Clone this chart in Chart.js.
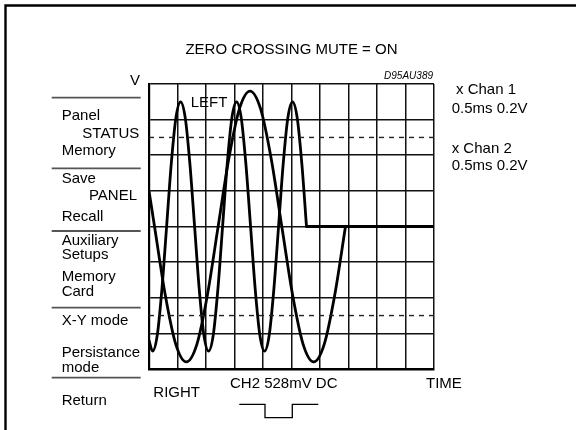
<!DOCTYPE html>
<html>
<head>
<meta charset="utf-8">
<style>
  html, body { margin: 0; padding: 0; background: #ffffff; }
  canvas { display: block; }
</style>
<script src="https://cdn.jsdelivr.net/npm/chart.js@4.4.0/dist/chart.umd.min.js"></script>
</head>
<body>
<canvas id="scope" width="576" height="430"></canvas>
<script>
// ---- Data (time in ms, level in V) ----
const timeRange = [0, 5];          // 10 div x 0.5 ms
const voltRange = [-0.8, 0.8];     // 8 div x 0.2 V
const timeStep = 0.5;
const voltStep = 0.2;

// Channel 1 (fast tone) until its zero-crossing mute point
const chan1Time  = [0, 0.063, 0.145, 0.227, 0.309, 0.390, 0.472, 0.554, 0.636, 0.718, 0.800, 0.881, 0.963,
                    1.045, 1.127, 1.209, 1.291, 1.372, 1.454, 1.536, 1.618, 1.700, 1.782, 1.863, 1.945,
                    2.027, 2.109, 2.191, 2.273, 2.354, 2.436, 2.518, 2.600, 2.682, 2.763];
const chan1Volts = [-0.64, -0.70, -0.61, -0.35, 0, 0.35, 0.61, 0.70, 0.61, 0.35, 0, -0.35, -0.61,
                    -0.70, -0.61, -0.35, 0, 0.35, 0.61, 0.70, 0.61, 0.35, 0, -0.35, -0.61,
                    -0.70, -0.61, -0.35, 0, 0.35, 0.61, 0.70, 0.61, 0.35, 0];

// Channel 2 (slow tone) until its zero-crossing mute point
const chan2Time  = [0, 0.097, 0.283, 0.469, 0.655, 0.841, 1.027, 1.213, 1.400, 1.586, 1.772, 1.958,
                    2.144, 2.330, 2.517, 2.703, 2.889, 3.075, 3.261, 3.447];
const chan2Volts = [0.20, 0, -0.38, -0.66, -0.76, -0.66, -0.38, 0, 0.38, 0.66, 0.76, 0.66,
                    0.38, 0, -0.38, -0.66, -0.76, -0.66, -0.38, 0];

// Muted (flat) level after the zero crossing
const muteLevel = 0;
// Dashed reference levels
const dashLevels = [0.5, -0.5];

// Texts
const titleText = 'ZERO CROSSING MUTE = ON';
const figureId = 'D95AU389';
const chanLabels = ['x Chan 1', '0.5ms 0.2V', 'x Chan 2', '0.5ms 0.2V'];
const menuLabels = ['V', 'Panel', 'STATUS', 'Memory', 'Save', 'PANEL', 'Recall', 'Auxiliary', 'Setups',
                    'Memory', 'Card', 'X-Y mode', 'Persistance', 'mode', 'Return'];
const traceLabels = ['LEFT', 'RIGHT', 'CH2 528mV DC', 'TIME'];

// ---- Build datasets ----
const toPts = (xs, ys) => xs.map((x, i) => ({ x: x, y: ys[i] }));
const last = a => a[a.length - 1];

const traceStyle = {
  borderColor: '#000', borderWidth: 2.8, pointRadius: 0, fill: false,
  cubicInterpolationMode: 'monotone', borderCapStyle: 'round', borderJoinStyle: 'round'
};

const datasets = [
  ...dashLevels.map(v => ({
    label: 'ref ' + v, data: [{ x: timeRange[0], y: v }, { x: timeRange[1], y: v }],
    borderColor: '#222', borderWidth: 1.4, borderDash: [5, 5], pointRadius: 0, fill: false
  })),
  Object.assign({ label: 'Chan 1', data: toPts(chan1Time, chan1Volts) }, traceStyle),
  Object.assign({ label: 'Chan 1 muted', data: [{ x: last(chan1Time), y: muteLevel }, { x: timeRange[1], y: muteLevel }] }, traceStyle),
  Object.assign({ label: 'Chan 2', data: toPts(chan2Time, chan2Volts) }, traceStyle),
  Object.assign({ label: 'Chan 2 muted', data: [{ x: last(chan2Time), y: muteLevel }, { x: timeRange[1], y: muteLevel }] }, traceStyle)
];

const FONT = '"Liberation Sans", Arial, Helvetica, sans-serif';

const decor = {
  id: 'decor',
  beforeDraw(chart) {
    const ctx = chart.ctx;
    ctx.save();
    // outer frame (top and left edges visible)
    ctx.strokeStyle = '#000';
    ctx.lineWidth = 2.4;
    ctx.beginPath();
    ctx.moveTo(5.5, 432);
    ctx.lineTo(5.5, 5.5);
    ctx.lineTo(580, 5.5);
    ctx.stroke();
    // menu separators
    ctx.strokeStyle = '#555';
    ctx.lineWidth = 1.8;
    [97.7, 168.3, 231, 307.7, 377.7].forEach(y => {
      ctx.beginPath();
      ctx.moveTo(51.7, y);
      ctx.lineTo(140.7, y);
      ctx.stroke();
    });
    ctx.restore();
  },
  afterDraw(chart) {
    const ctx = chart.ctx;
    const area = chart.chartArea;
    ctx.save();
    ctx.fillStyle = '#000';
    ctx.textBaseline = 'alphabetic';
    const put = (t, x, y, align, font) => {
      ctx.font = font || ('15px ' + FONT);
      ctx.textAlign = align || 'left';
      ctx.fillText(t, x, y);
    };
    // title
    put(titleText, (area.left + area.right) / 2, 53.5, 'center');
    // figure id
    put(figureId, area.right - 1, 79, 'right', 'italic 10px ' + FONT);
    // channel info
    put(chanLabels[0], 456, 94);
    put(chanLabels[1], 451.7, 112.7);
    put(chanLabels[2], 451.7, 152.7);
    put(chanLabels[3], 451.7, 170);
    // menu
    const menuPos = [
      [140, 85, 'right'], [61.7, 120], [139.3, 137.7, 'right'], [61.7, 155], [61.7, 182.5],
      [137, 200, 'right'], [61.7, 220.7], [61.7, 245], [61.7, 259.3], [61.7, 281], [61.7, 296],
      [61.7, 325], [61.7, 356.7], [61.7, 371.7], [61.7, 405]
    ];
    menuLabels.forEach((t, i) => put(t, menuPos[i][0], menuPos[i][1], menuPos[i][2]));
    // trace labels
    put(traceLabels[0], 190.7, 106.7);
    put(traceLabels[1], 153.3, 396.7);
    put(traceLabels[2], 230, 388.3);
    put(traceLabels[3], 426, 388.3);
    // pulse symbol
    ctx.strokeStyle = '#000';
    ctx.lineWidth = 1.3;
    ctx.beginPath();
    ctx.moveTo(239.3, 404.3);
    ctx.lineTo(265, 404.3);
    ctx.lineTo(265, 417.7);
    ctx.lineTo(292.3, 417.7);
    ctx.lineTo(292.3, 404.3);
    ctx.lineTo(318.3, 404.3);
    ctx.stroke();
    ctx.restore();
  }
};

new Chart(document.getElementById('scope'), {
  type: 'line',
  data: { datasets: datasets },
  plugins: [decor],
  options: {
    responsive: false,
    animation: false,
    devicePixelRatio: 1,
    layout: { padding: { left: 149, top: 84, right: 142, bottom: 61 } },
    plugins: { legend: { display: false }, tooltip: { enabled: false }, title: { display: false } },
    elements: { line: { tension: 0 } },
    scales: {
      x: {
        type: 'linear', min: timeRange[0], max: timeRange[1],
        ticks: { display: false, stepSize: timeStep },
        grid: { color: '#111', lineWidth: 1.5, drawTicks: false },
        border: { display: true, color: '#000', width: 2.6 }
      },
      y: {
        type: 'linear', min: voltRange[0], max: voltRange[1],
        ticks: { display: false, stepSize: voltStep },
        grid: { color: '#111', lineWidth: 1.5, drawTicks: false },
        border: { display: true, color: '#000', width: 2.2 }
      }
    }
  }
});
</script>
</body>
</html>
